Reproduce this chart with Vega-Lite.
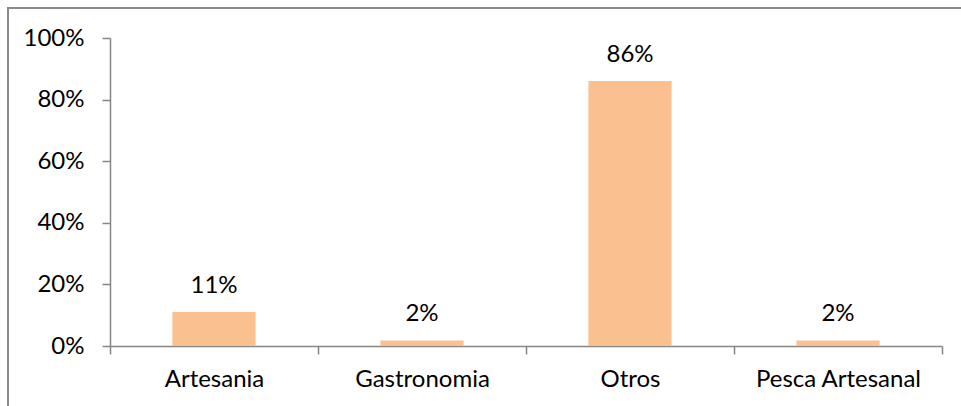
{
  "$schema": "https://vega.github.io/schema/vega-lite/v6.json",
  "autosize": "none",
  "padding": {"left": 8, "top": 8, "right": 0, "bottom": 0},
  "width": 1000,
  "height": 450,
  "background": "white",
  "config": {
    "view": {"stroke": "#8a8a8a", "strokeWidth": 2},
    "font": "Lato"
  },
  "data": {
    "values": [
      {"categoria": "Artesania", "valor": 0.11},
      {"categoria": "Gastronomia", "valor": 0.018},
      {"categoria": "Otros", "valor": 0.86},
      {"categoria": "Pesca Artesanal", "valor": 0.018}
    ]
  },
  "encoding": {
    "x": {
      "field": "categoria",
      "type": "nominal",
      "sort": null,
      "scale": {"range": [102, 934], "paddingInner": 0, "paddingOuter": 0},
      "axis": {
        "title": null,
        "orient": "bottom",
        "offset": -112,
        "labelAngle": 0,
        "labelFontSize": 24,
        "labelColor": "#000000",
        "labelPadding": 13,
        "tickBand": "extent",
        "tickSize": 8,
        "tickColor": "#868686",
        "domainColor": "#868686",
        "domainWidth": 1.5,
        "tickWidth": 1.5,
        "grid": false
      }
    },
    "y": {
      "field": "valor",
      "type": "quantitative",
      "scale": {"domain": [0, 1], "range": [338, 30], "nice": false},
      "axis": {
        "title": null,
        "orient": "left",
        "offset": -102,
        "values": [0, 0.2, 0.4, 0.6, 0.8, 1],
        "format": ".0%",
        "labelFontSize": 24,
        "labelColor": "#000000",
        "labelPadding": 18,
        "tickSize": 8,
        "tickColor": "#868686",
        "domainColor": "#868686",
        "domainWidth": 1.5,
        "tickWidth": 1.5,
        "grid": false
      }
    }
  },
  "layer": [
    {"mark": {"type": "bar", "color": "#FAC090", "width": {"band": 0.4}}},
    {
      "mark": {"type": "text", "baseline": "alphabetic", "dy": -19, "fontSize": 24, "color": "#000000"},
      "encoding": {"text": {"field": "valor", "type": "quantitative", "format": ".0%"}}
    }
  ]
}
